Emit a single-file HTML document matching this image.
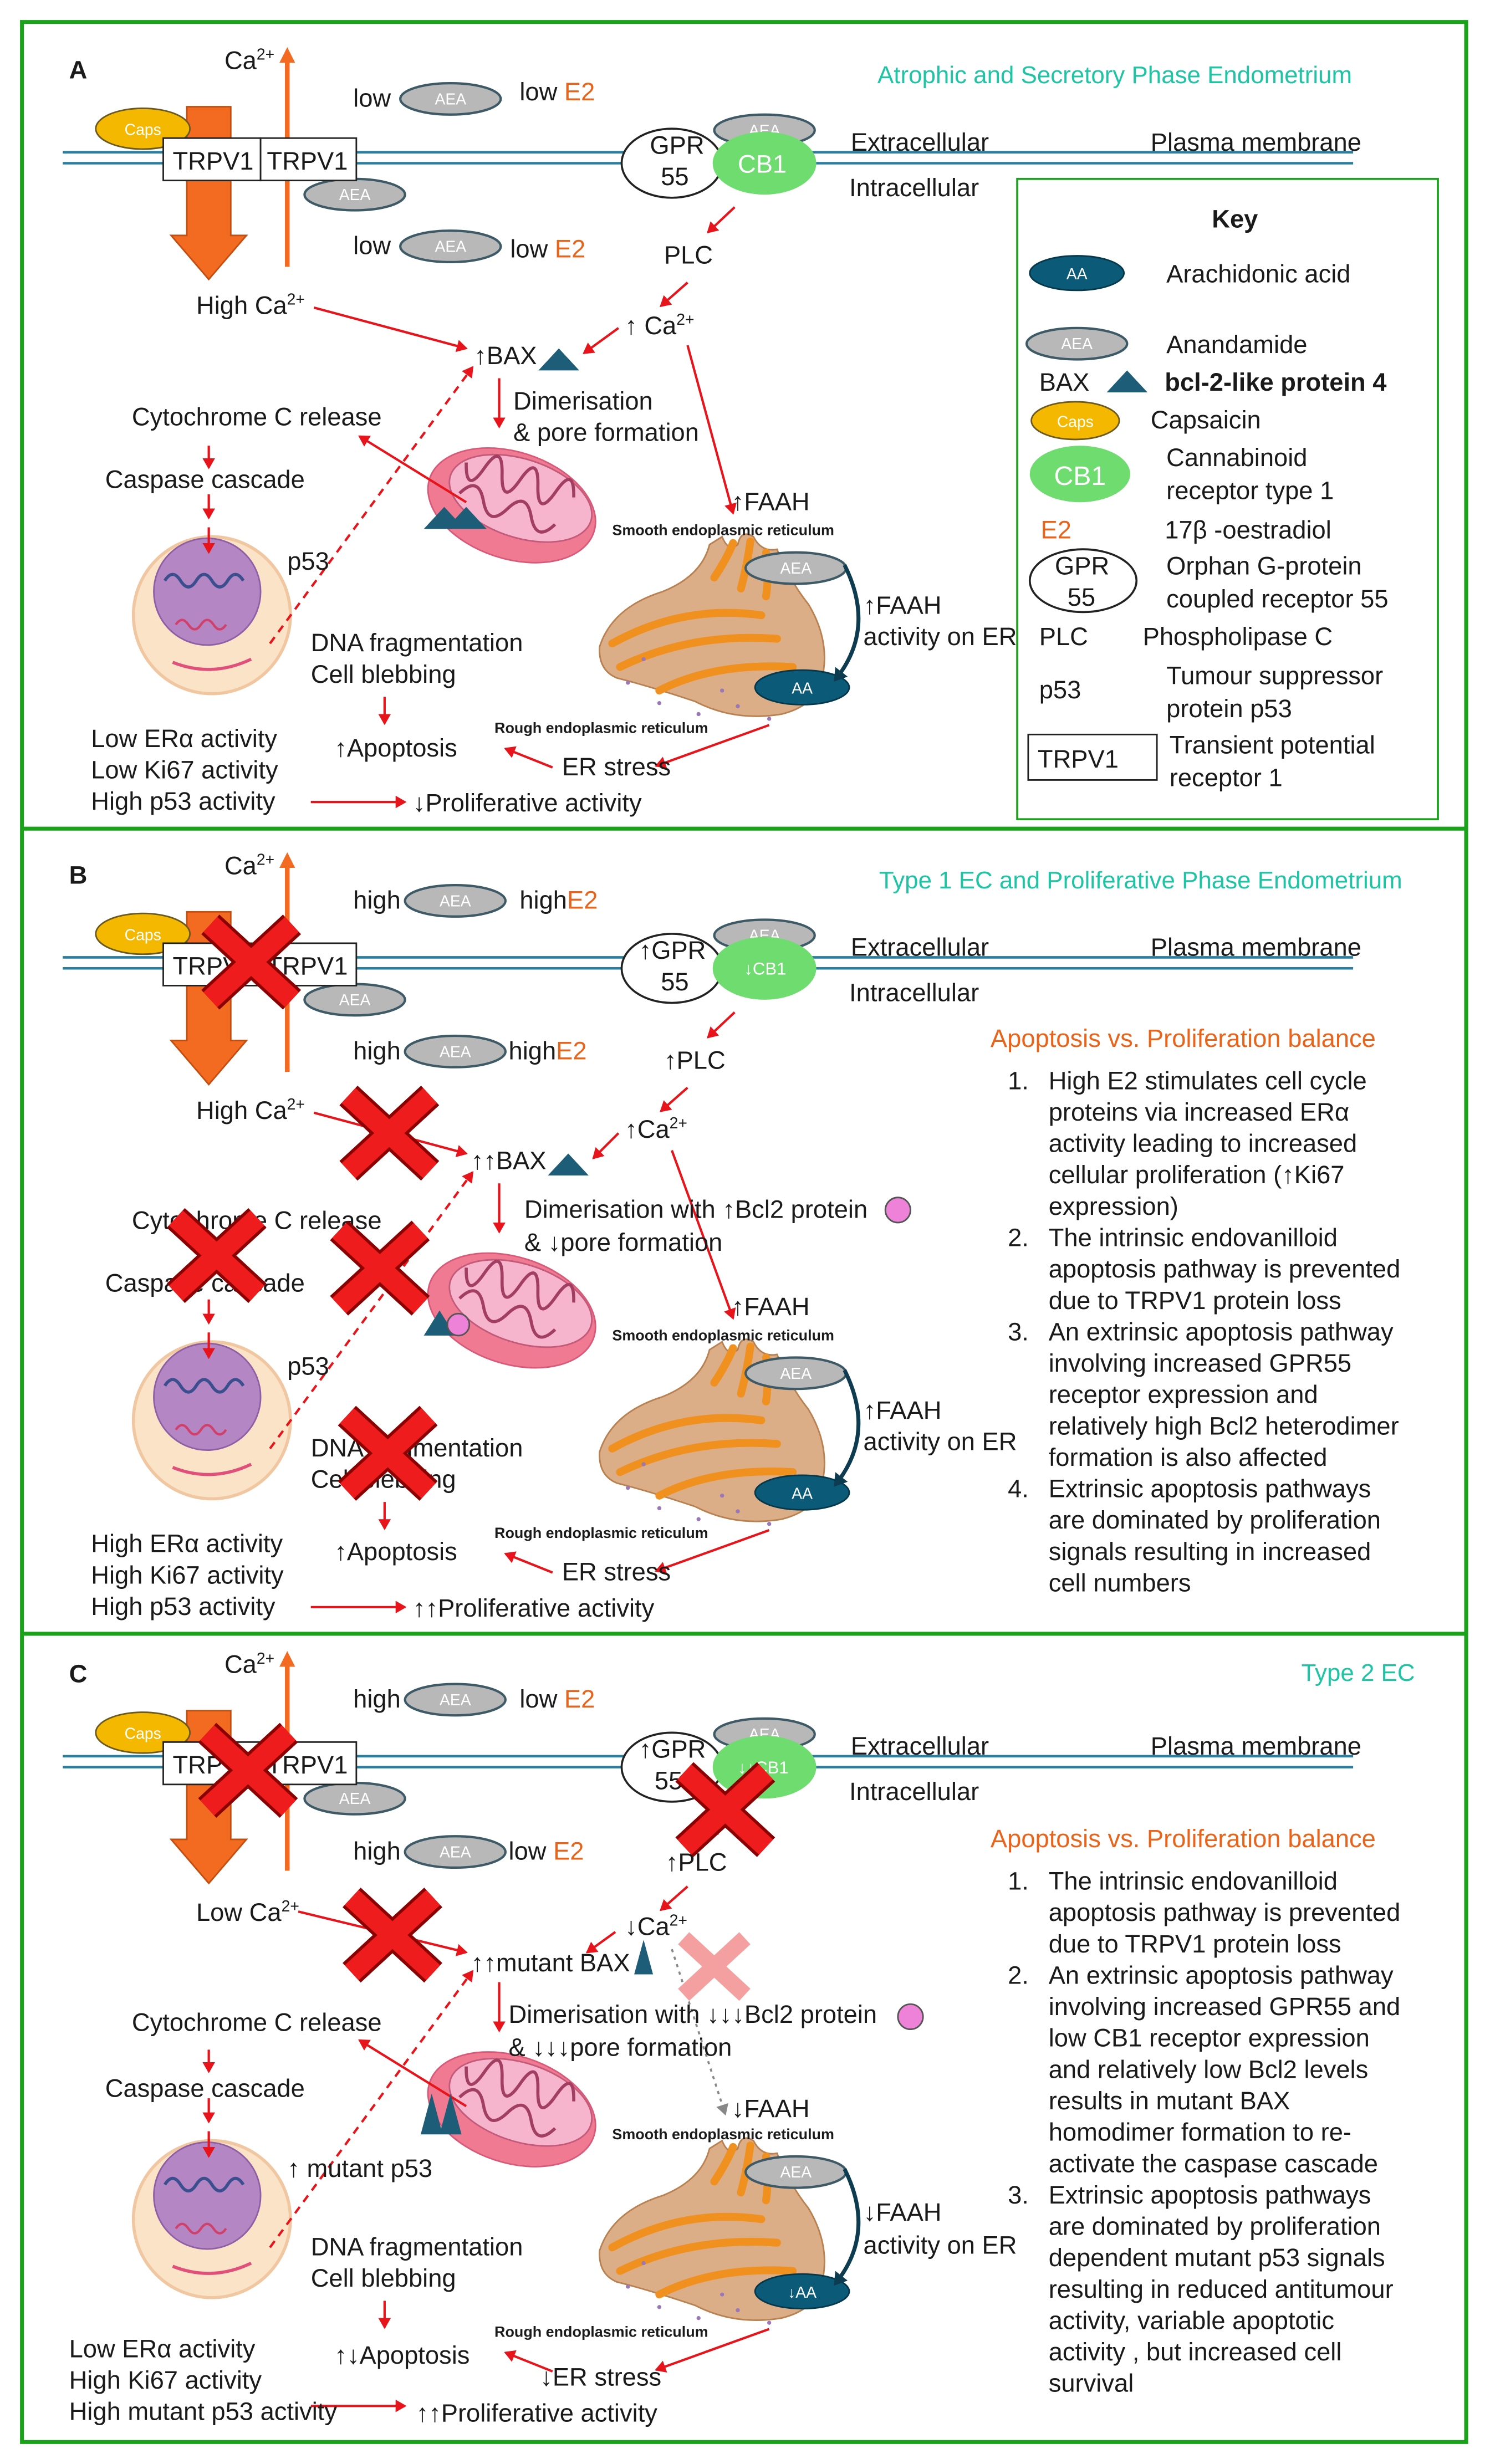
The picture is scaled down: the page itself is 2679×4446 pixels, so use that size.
<!DOCTYPE html>
<html><head><meta charset="utf-8"><style>
html,body{margin:0;padding:0;background:#fff;}
svg{display:block;}
text{font-family:"Liberation Sans",sans-serif;font-size:16px;fill:#1a1a1a;}
.s{font-size:9.5px;font-weight:bold;}
.o{fill:#e8641b;}
.t{fill:#1ec4a4;font-size:15.5px;}
.w{fill:#fff;font-size:10px;}
</style></head><body>
<svg width="2679" height="4446" viewBox="0 0 946 1570" preserveAspectRatio="none" xmlns="http://www.w3.org/2000/svg">
<defs>
<marker id="ar" markerWidth="8" markerHeight="8" refX="6" refY="4" orient="auto" markerUnits="userSpaceOnUse"><path d="M0,0 L7,4 L0,8 z" fill="#e8141b"/></marker>
<marker id="ad" markerWidth="10" markerHeight="10" refX="5" refY="5" orient="auto" markerUnits="userSpaceOnUse"><path d="M0,0 L8,5 L0,10 z" fill="#0d3b4f"/></marker>
<marker id="ag" markerWidth="8" markerHeight="8" refX="6" refY="4" orient="auto" markerUnits="userSpaceOnUse"><path d="M0,0 L7,4 L0,8 z" fill="#888"/></marker>
<g id="aea"><ellipse cx="0" cy="0" rx="32" ry="10" fill="#b8b8b8" stroke="#3d5a66" stroke-width="1.5"/><text x="0" y="3.5" text-anchor="middle" class="w">AEA</text></g>
<g id="xx"><path d="M-26,-24 L26,24 M26,-24 L-26,24" stroke="#8b0000" stroke-width="17" stroke-linecap="butt"/><path d="M-26,-24 L26,24 M26,-24 L-26,24" stroke="#ee1c1c" stroke-width="13"/></g>
<g id="common">
 <line x1="40" y1="97" x2="862" y2="97" stroke="#2a7fa0" stroke-width="1.6"/>
 <line x1="40" y1="104" x2="862" y2="104" stroke="#2a7fa0" stroke-width="1.6"/>
 <path d="M119,68 L147,68 L147,150 L157,150 L133,178 L109,150 L119,150 z" fill="#f26b21" stroke="#c44d10" stroke-width="1"/>
 <line x1="183" y1="170" x2="183" y2="38" stroke="#f26b21" stroke-width="3"/>
 <path d="M178,40 L183,30 L188,40 z" fill="#f26b21"/>
 <ellipse cx="91" cy="82" rx="30" ry="13" fill="#f5b800" stroke="#6b5a20" stroke-width="1"/>
 <text x="91" y="86" text-anchor="middle" class="w">Caps</text>
 <use href="#aea" x="226" y="124"/>
 <ellipse cx="428" cy="104" rx="32" ry="22" fill="#fff" stroke="#222" stroke-width="1.3"/>
 <use href="#aea" x="487" y="83"/>
 <ellipse cx="487" cy="104" rx="33" ry="20" fill="#6fdc6f"/>
 <text x="542" y="96">Extracellular</text><text x="733" y="96">Plasma membrane</text><text x="541" y="125">Intracellular</text>
 <g transform="rotate(18 326 322)">
  <ellipse cx="326" cy="322" rx="55" ry="34" fill="#f07a92" stroke="#d85a78"/>
  <ellipse cx="330" cy="316" rx="47" ry="25" fill="#f6b5cc" stroke="#c45a7a"/>
  <path d="M290,305 q6,20 12,0 q6,-20 12,0 q6,20 12,0 q6,-20 12,0 q6,20 12,0 q6,-20 12,0 M292,325 q8,-15 16,0 q8,15 16,0 q8,-15 16,0 q8,15 16,0" fill="none" stroke="#a23e62" stroke-width="2"/>
 </g>
 <!-- ER -->
 <path d="M382,412 q8,-25 40,-35 q25,-10 30,-30 l8,-5 q4,10 10,5 q2,-10 10,-5 q5,10 15,8 q8,20 20,35 q15,25 8,50 q-5,15 -25,20 q-30,5 -55,-8 q-30,-10 -50,-15 q-12,-5 -11,-20z" fill="#dcae88" stroke="#b98050"/>
 <path d="M390,410 q45,-25 95,-18 M395,425 q45,-22 100,-18 M420,440 q35,-18 85,-15 M455,368 q8,-12 12,-22 M472,375 q4,-15 6,-30 M488,380 q2,-15 0,-28" fill="none" stroke="#f0901e" stroke-width="5" stroke-linecap="round"/>
 <g fill="#9a78b8"><circle cx="400" cy="435" r="1.3"/><circle cx="420" cy="448" r="1.3"/><circle cx="445" cy="455" r="1.3"/><circle cx="470" cy="450" r="1.3"/><circle cx="490" cy="458" r="1.3"/><circle cx="410" cy="420" r="1.3"/><circle cx="460" cy="440" r="1.3"/></g>
 <use href="#aea" x="507" y="362"/>
 <ellipse cx="511" cy="438" rx="30" ry="11" fill="#0a5a78" stroke="#06384b"/>
 <path d="M538,360 q20,40 -5,72" fill="none" stroke="#0d3b4f" stroke-width="2.5" marker-end="url(#ad)"/>
 <circle cx="135" cy="392" r="50" fill="#fbe3c8" stroke="#f0c7a0" stroke-width="2"/>
 <circle cx="132" cy="377" r="34" fill="#b487c4" stroke="#8f5fa6"/>
 <path d="M105,370 q5,-8 10,0 q5,8 10,0 q5,-8 10,0 q5,8 10,0 q5,-8 10,0" fill="none" stroke="#3b4f8f" stroke-width="2"/>
 <path d="M112,398 q4,-6 8,0 q4,6 8,0 q4,-6 8,0 q4,6 8,0" fill="none" stroke="#d0406a" stroke-width="1.5"/>
 <path d="M110,422 q25,10 50,-2" fill="none" stroke="#e0507a" stroke-width="2"/>
 <g stroke="#e8141b" stroke-width="1.5" fill="none" marker-end="url(#ar)">
  <line x1="468" y1="132" x2="451" y2="148"/>
  <line x1="438" y1="180" x2="421" y2="195"/>
  <line x1="318" y1="241" x2="318" y2="272"/>
  <line x1="133" y1="284" x2="133" y2="298"/>
  <line x1="133" y1="315" x2="133" y2="330"/>
  <line x1="133" y1="336" x2="133" y2="352"/>
  <line x1="245" y1="444" x2="245" y2="461"/>
  <line x1="352" y1="489" x2="322" y2="477"/>
  <line x1="490" y1="462" x2="418" y2="488"/>
  <line x1="198" y1="511" x2="258" y2="511"/>
  <line x1="172" y1="410" x2="301" y2="234" stroke-dasharray="5,4"/>
 </g>
 <text x="390" y="341" class="s">Smooth  endoplasmic   reticulum</text>
 <text x="315" y="467" class="s">Rough  endoplasmic   reticulum</text>
 <text x="198" y="415">DNA fragmentation</text><text x="198" y="435">Cell blebbing</text>
</g>
</defs>
<rect x="0" y="0" width="946" height="1570" fill="#fff"/>
<rect x="14" y="14" width="920" height="1542" fill="none" stroke="#1aa31a" stroke-width="2.5"/>
<line x1="14" y1="528" x2="934" y2="528" stroke="#1aa31a" stroke-width="2.5"/>
<line x1="14" y1="1041" x2="934" y2="1041" stroke="#1aa31a" stroke-width="2.5"/>

<!-- ===== PANEL A ===== -->
<use href="#common"/>
<text x="511" y="442" text-anchor="middle" class="w">AA</text>
<rect x="104" y="88" width="62" height="27" fill="#fff" stroke="#222"/><rect x="166" y="88" width="61" height="27" fill="#fff" stroke="#222"/>
<text x="110" y="108">TRPV1</text><text x="170" y="108">TRPV1</text>
<text x="414" y="98">GPR</text><text x="421" y="118">55</text><text x="470" y="110" style="fill:#fff">CB1</text>
<text x="44" y="50" style="font-weight:bold">A</text>
<text x="143" y="44">Ca<tspan dy="-6" font-size="10">2+</tspan></text>
<text x="559" y="53" class="t">Atrophic and Secretory Phase Endometrium</text>
<text x="225" y="68">low</text><use href="#aea" x="287" y="63"/><text x="331" y="64">low <tspan class="o">E2</tspan></text>
<text x="225" y="162">low</text><use href="#aea" x="287" y="157"/><text x="325" y="164">low <tspan class="o">E2</tspan></text>
<text x="423" y="168">PLC</text>
<text x="125" y="200">High Ca<tspan dy="-6" font-size="10">2+</tspan></text>
<text x="398" y="213">↑ Ca<tspan dy="-6" font-size="10">2+</tspan></text>
<text x="302" y="232">↑BAX</text><path d="M343,236 L356,222 L369,236z" fill="#1d5d78"/>
<g stroke="#e8141b" stroke-width="1.5" fill="none" marker-end="url(#ar)">
 <line x1="200" y1="196" x2="297" y2="222"/><line x1="394" y1="209" x2="372" y2="225"/>
 <line x1="438" y1="220" x2="467" y2="327"/><line x1="297" y1="320" x2="229" y2="278"/>
</g>
<text x="327" y="261">Dimerisation</text><text x="327" y="281">&amp; pore formation</text>
<text x="84" y="271">Cytochrome C release</text><text x="67" y="311">Caspase cascade</text>
<path d="M270,337 L283,323 L296,337z M284,337 L297,323 L310,337z" fill="#1d5d78"/>
<text x="183" y="363">p53</text>
<text x="466" y="325">↑FAAH</text><text x="550" y="391">↑FAAH</text><text x="550" y="411">activity on ER</text>
<text x="213" y="482">↑Apoptosis</text><text x="358" y="494">ER stress</text>
<text x="58" y="476">Low ERα activity</text><text x="58" y="496">Low Ki67 activity</text><text x="58" y="516">High p53 activity</text>
<text x="263" y="517">↓Proliferative activity</text>
<rect x="648" y="114" width="268" height="408" fill="#fff" stroke="#1aa31a" stroke-width="1.3"/>
<text x="772" y="145" style="font-weight:bold">Key</text>
<ellipse cx="686" cy="174" rx="30" ry="11" fill="#0a5a78" stroke="#06384b"/><text x="686" y="178" text-anchor="middle" class="w">AA</text>
<text x="743" y="180">Arachidonic acid</text>
<use href="#aea" x="686" y="219"/><text x="743" y="225">Anandamide</text>
<text x="662" y="249">BAX</text><path d="M705,250 L718,236 L731,250z" fill="#1d5d78"/><text x="742" y="249" style="font-weight:bold">bcl-2-like protein 4</text>
<ellipse cx="685" cy="268" rx="28" ry="12" fill="#f5b800" stroke="#6b5a20"/><text x="685" y="272" text-anchor="middle" class="w">Caps</text>
<text x="733" y="273">Capsaicin</text>
<ellipse cx="688" cy="302" rx="32" ry="18" fill="#6fdc6f"/><text x="688" y="309" text-anchor="middle" style="fill:#fff;font-size:17px">CB1</text>
<text x="743" y="297">Cannabinoid</text><text x="743" y="318">receptor type 1</text>
<text x="663" y="343" class="o">E2</text><text x="742" y="343">17β -oestradiol</text>
<ellipse cx="690" cy="370" rx="34" ry="20" fill="#fff" stroke="#222" stroke-width="1.3"/><text x="672" y="366">GPR</text><text x="680" y="386">55</text>
<text x="743" y="366">Orphan G-protein</text><text x="743" y="387">coupled receptor 55</text>
<text x="662" y="411">PLC</text><text x="728" y="411">Phospholipase C</text>
<text x="662" y="445">p53</text><text x="743" y="436">Tumour suppressor</text><text x="743" y="457">protein p53</text>
<rect x="655" y="468" width="82" height="29" fill="#fff" stroke="#222"/><text x="661" y="489">TRPV1</text>
<text x="745" y="480">Transient potential</text><text x="745" y="501">receptor 1</text>

<!-- ===== PANEL B ===== -->
<g transform="translate(0,513)">
<use href="#common"/>
<text x="511" y="442" text-anchor="middle" class="w">AA</text>
<rect x="104" y="88" width="62" height="27" fill="#fff" stroke="#222"/><rect x="166" y="88" width="61" height="27" fill="#fff" stroke="#222"/>
<text x="110" y="108">TRPV1</text><text x="170" y="108">TRPV1</text>
<text x="407" y="98">↑GPR</text><text x="421" y="118">55</text><text x="474" y="108" style="fill:#fff;font-size:11px">↓CB1</text>
<text x="44" y="50" style="font-weight:bold">B</text>
<text x="143" y="44">Ca<tspan dy="-6" font-size="10">2+</tspan></text>
<text x="560" y="53" class="t">Type 1 EC and Proliferative Phase Endometrium</text>
<text x="225" y="66">high</text><use href="#aea" x="290" y="61"/><text x="331" y="66">high<tspan class="o">E2</tspan></text>
<text x="225" y="162">high</text><use href="#aea" x="290" y="157"/><text x="324" y="162">high<tspan class="o">E2</tspan></text>
<text x="423" y="168">↑PLC</text>
<text x="125" y="200">High Ca<tspan dy="-6" font-size="10">2+</tspan></text>
<text x="398" y="212">↑Ca<tspan dy="-6" font-size="10">2+</tspan></text>
<text x="300" y="232">↑↑BAX</text><path d="M349,236 L362,222 L375,236z" fill="#1d5d78"/>
<g stroke="#e8141b" stroke-width="1.5" fill="none" marker-end="url(#ar)">
 <line x1="200" y1="196" x2="297" y2="222"/><line x1="394" y1="209" x2="378" y2="225"/>
 <line x1="428" y1="220" x2="467" y2="327"/>
</g>
<text x="334" y="263">Dimerisation with ↑Bcl2 protein</text><circle cx="572" cy="258" r="8" fill="#ee82d8" stroke="#555"/>
<text x="334" y="284">&amp; ↓pore formation</text>
<text x="84" y="270">Cytochrome C release</text><text x="67" y="310">Caspase cascade</text>
<path d="M270,338 L280,322 L290,338z" fill="#1d5d78"/><circle cx="292" cy="331" r="7" fill="#ee82d8" stroke="#555"/>
<text x="183" y="363">p53</text>
<text x="466" y="325">↑FAAH</text><text x="550" y="391">↑FAAH</text><text x="550" y="411">activity on ER</text>
<text x="213" y="481">↑Apoptosis</text><text x="358" y="494">ER stress</text>
<text x="58" y="476">High ERα activity</text><text x="58" y="496">High Ki67 activity</text><text x="58" y="516">High p53 activity</text>
<text x="263" y="517">↑↑Proliferative activity</text>
<use href="#xx" x="160" y="100"/><use href="#xx" x="248" y="209"/><use href="#xx" x="138" y="287"/><use href="#xx" x="242" y="295"/><use href="#xx" x="247" y="413"/>
<text x="631" y="154" class="o">Apoptosis vs. Proliferation balance</text>
<g>
<text x="642" y="181">1.</text><text x="668" y="181">High E2 stimulates cell cycle</text><text x="668" y="201">proteins via increased ERα</text><text x="668" y="221">activity leading to increased</text><text x="668" y="241">cellular proliferation (↑Ki67</text><text x="668" y="261">expression)</text>
<text x="642" y="281">2.</text><text x="668" y="281">The intrinsic endovanilloid</text><text x="668" y="301">apoptosis pathway is prevented</text><text x="668" y="321">due to TRPV1 protein loss</text>
<text x="642" y="341">3.</text><text x="668" y="341">An extrinsic apoptosis pathway</text><text x="668" y="361">involving increased GPR55</text><text x="668" y="381">receptor expression and</text><text x="668" y="401">relatively high Bcl2 heterodimer</text><text x="668" y="421">formation is also affected</text>
<text x="642" y="441">4.</text><text x="668" y="441">Extrinsic apoptosis pathways</text><text x="668" y="461">are dominated by proliferation</text><text x="668" y="481">signals resulting in increased</text><text x="668" y="501">cell numbers</text>
</g>
</g>

<!-- ===== PANEL C ===== -->
<g transform="translate(0,1022)">
<use href="#common"/>
<text x="511" y="442" text-anchor="middle" class="w">↓AA</text>
<rect x="104" y="88" width="62" height="27" fill="#fff" stroke="#222"/><rect x="166" y="88" width="61" height="27" fill="#fff" stroke="#222"/>
<text x="110" y="108">TRPV1</text><text x="170" y="108">TRPV1</text>
<text x="407" y="98">↑GPR</text><text x="417" y="118">55</text><text x="470" y="108" style="fill:#fff;font-size:11px">↓↓CB1</text>
<text x="44" y="50" style="font-weight:bold">C</text>
<text x="143" y="44">Ca<tspan dy="-6" font-size="10">2+</tspan></text>
<text x="829" y="49" class="t">Type 2 EC</text>
<text x="225" y="66">high</text><use href="#aea" x="290" y="61"/><text x="331" y="66">low <tspan class="o">E2</tspan></text>
<text x="225" y="163">high</text><use href="#aea" x="290" y="158"/><text x="324" y="163">low <tspan class="o">E2</tspan></text>
<text x="424" y="170">↑PLC</text>
<text x="125" y="202">Low Ca<tspan dy="-6" font-size="10">2+</tspan></text>
<text x="398" y="211">↓Ca<tspan dy="-6" font-size="10">2+</tspan></text>
<text x="300" y="234">↑↑mutant BAX</text><path d="M404,236 L410,214 L416,236z" fill="#1d5d78"/>
<g stroke="#e8141b" stroke-width="1.5" fill="none" marker-end="url(#ar)">
 <line x1="190" y1="196" x2="297" y2="222"/><line x1="392" y1="209" x2="374" y2="222"/>
 <line x1="297" y1="320" x2="229" y2="278"/>
</g>
<line x1="428" y1="220" x2="462" y2="325" stroke="#888" stroke-width="1.3" stroke-dasharray="2,3" marker-end="url(#ag)"/>
<text x="324" y="267">Dimerisation with ↓↓↓Bcl2 protein</text><circle cx="580" cy="263" r="8" fill="#ee82d8" stroke="#555"/>
<text x="324" y="288">&amp; ↓↓↓pore formation</text>
<text x="84" y="272">Cytochrome C release</text><text x="67" y="314">Caspase cascade</text>
<path d="M268,338 L275,312 L282,338z M280,338 L287,312 L294,338z" fill="#1d5d78"/>
<text x="183" y="365">↑ mutant p53</text>
<text x="466" y="327">↓FAAH</text><text x="550" y="393">↓FAAH</text><text x="550" y="414">activity on ER</text>
<text x="213" y="484">↑↓Apoptosis</text><text x="344" y="498">↓ER stress</text>
<text x="44" y="480">Low ERα activity</text><text x="44" y="500">High Ki67 activity</text><text x="44" y="520">High mutant p53 activity</text>
<text x="265" y="521">↑↑Proliferative activity</text>
<use href="#xx" x="158" y="106"/><use href="#xx" x="462" y="131"/><use href="#xx" x="250" y="211"/>
<g transform="translate(455,231) scale(0.75)"><path d="M-26,-24 L26,24 M26,-24 L-26,24" stroke="#f4a0a0" stroke-width="14"/></g>
<text x="631" y="155" class="o">Apoptosis vs. Proliferation balance</text>
<g>
<text x="642" y="182">1.</text><text x="668" y="182">The intrinsic endovanilloid</text><text x="668" y="202">apoptosis pathway is prevented</text><text x="668" y="222">due to TRPV1 protein loss</text>
<text x="642" y="242">2.</text><text x="668" y="242">An extrinsic apoptosis pathway</text><text x="668" y="262">involving increased GPR55 and</text><text x="668" y="282">low CB1 receptor expression</text><text x="668" y="302">and relatively low Bcl2 levels</text><text x="668" y="322">results in mutant BAX</text><text x="668" y="342">homodimer formation to re-</text><text x="668" y="362">activate the caspase cascade</text>
<text x="642" y="382">3.</text><text x="668" y="382">Extrinsic apoptosis pathways</text><text x="668" y="402">are dominated by proliferation</text><text x="668" y="422">dependent mutant p53 signals</text><text x="668" y="442">resulting in reduced antitumour</text><text x="668" y="462">activity, variable apoptotic</text><text x="668" y="482">activity , but increased cell</text><text x="668" y="502">survival</text>
</g>
</g>
</svg>
</body></html>
